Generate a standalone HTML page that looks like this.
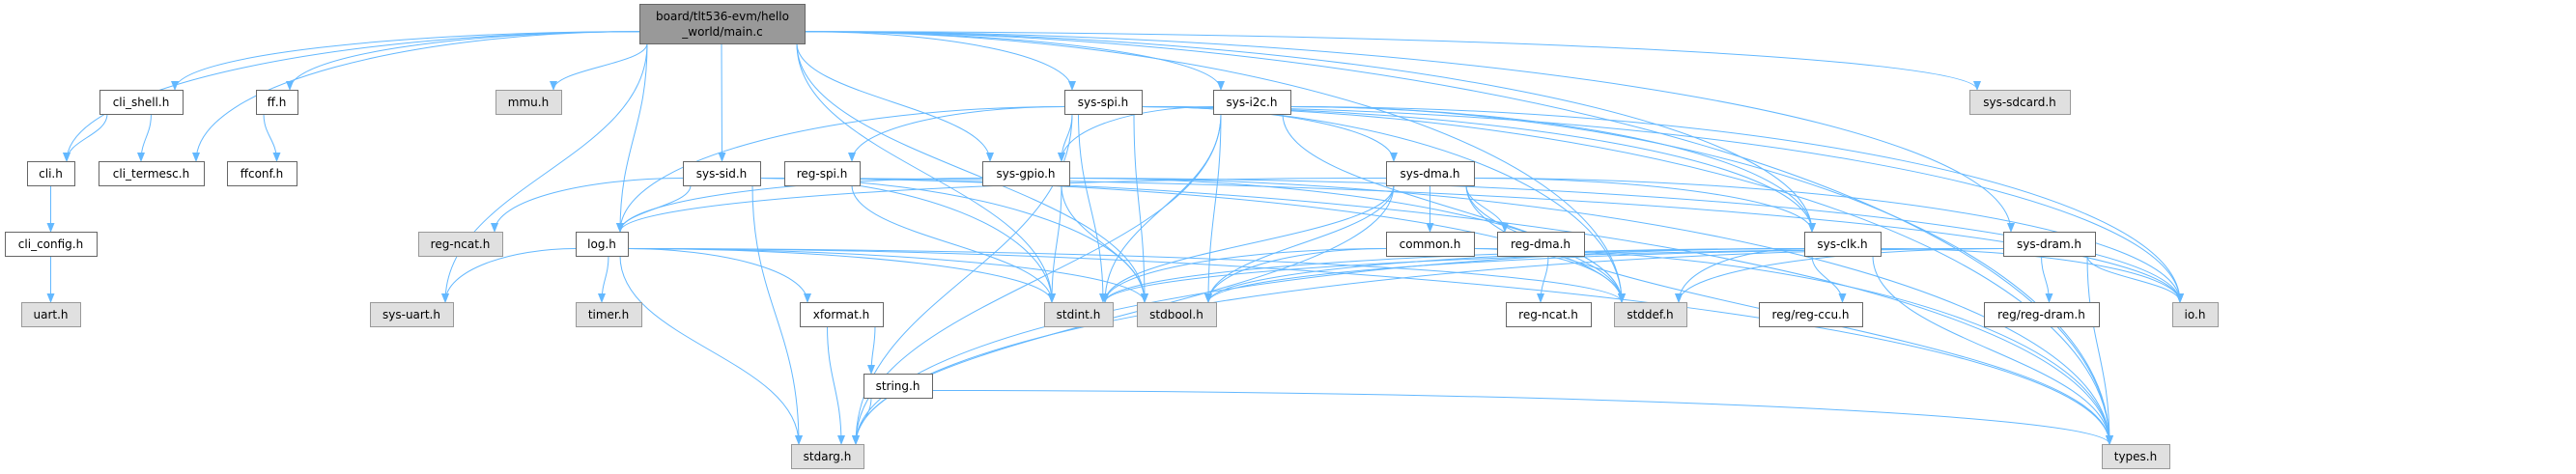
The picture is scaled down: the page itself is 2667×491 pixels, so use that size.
<!DOCTYPE html>
<html><head><meta charset="utf-8">
<style>
html,body{margin:0;padding:0;background:#fff;}
svg{display:block;}
text{font-family:"DejaVu Sans","Liberation Sans",sans-serif;font-size:12px;fill:#000;}
</style></head>
<body>
<svg id="g" width="2667" height="491" viewBox="0 0 2667 491" xmlns="http://www.w3.org/2000/svg">
<defs>
<marker id="ah" markerWidth="10" markerHeight="10" refX="9" refY="5" orient="auto" markerUnits="userSpaceOnUse">
<path d="M0,1 L10,5 L0,9 z" fill="#63b8ff"/>
</marker>
</defs>
<g id="edges" fill="none" stroke="#63b8ff" stroke-width="1"></g>
<g id="nodes" stroke="#666" stroke-width="1">
<rect x="662.5" y="4.5" width="171" height="41" fill="#999999"/>
<text x="748" y="21" text-anchor="middle" stroke="none">board/tlt536-evm/hello</text>
<text x="748" y="37" text-anchor="middle" stroke="none">_world/main.c</text>
</g>
</svg>
<script>
var N={
cli_shell:[103,93,189,118,'cli_shell.h',0],
ff:[265,93,308,118,'ff.h',0],
mmu:[513,93,581,118,'mmu.h',1],
spi:[1102,93,1182,118,'sys-spi.h',0],
i2c:[1256,93,1336,118,'sys-i2c.h',0],
sdcard:[2039,93,2143,118,'sys-sdcard.h',1],
cli:[28,167,77,192,'cli.h',0],
termesc:[102,167,211,192,'cli_termesc.h',0],
ffconf:[235,167,307,192,'ffconf.h',0],
sid:[707,167,787,192,'sys-sid.h',0],
regspi:[812,167,890,192,'reg-spi.h',0],
gpio:[1017,167,1107,192,'sys-gpio.h',0],
dma:[1435,167,1526,192,'sys-dma.h',0],
cliconf:[5,240,100,265,'cli_config.h',0],
ncat1:[433,240,520,265,'reg-ncat.h',1],
log:[596,240,650,265,'log.h',0],
common:[1435,240,1526,265,'common.h',0],
regdma:[1550,240,1640,265,'reg-dma.h',0],
clk:[1868,240,1947,265,'sys-clk.h',0],
dram:[2074,240,2169,265,'sys-dram.h',0],
uart:[22,313,83,338,'uart.h',1],
sysuart:[383,313,469,338,'sys-uart.h',1],
timer:[596,313,664,338,'timer.h',1],
xformat:[828,313,914,338,'xformat.h',0],
stdint:[1081,313,1152,338,'stdint.h',1],
stdbool:[1177,313,1259,338,'stdbool.h',1],
ncat2:[1559,313,1647,338,'reg-ncat.h',0],
stddef:[1671,313,1746,338,'stddef.h',1],
ccu:[1821,313,1928,338,'reg/reg-ccu.h',0],
regdram:[2054,313,2173,338,'reg/reg-dram.h',0],
io:[2249,313,2296,338,'io.h',1],
string:[894,387,965,412,'string.h',0],
stdarg:[819,460,894,485,'stdarg.h',1],
types:[2176,460,2246,485,'types.h',1],
main:[662,4,833,45,'',0]
};
var E=[
['main','cli_shell'],['main','cli'],['main','termesc'],['main','ff'],['main','mmu'],['main','sid'],['main','log'],['main','sysuart'],['main','stdint'],['main','stdbool'],['main','gpio'],['main','spi'],['main','i2c'],['main','dram'],['main','sdcard'],['main','stddef'],['main','types'],['main','clk'],
['cli_shell','cli'],['cli_shell','termesc'],['cli','cliconf'],['cliconf','uart'],['ff','ffconf'],
['sid','ncat1'],['sid','log'],['sid','stdarg'],['sid','stdint'],['sid','stdbool'],['sid','stddef'],['sid','io'],['sid','types'],
['log','sysuart'],['log','timer'],['log','xformat'],['log','stdint'],['log','stdbool'],['log','stddef'],['log','types'],['log','stdarg'],
['xformat','stdarg'],['xformat','string'],['string','stdarg'],['string','types'],
['spi','regspi'],['spi','log'],['spi','gpio'],['spi','dma'],['spi','stdint'],['spi','stdbool'],['spi','stddef'],['spi','stdarg'],['spi','clk'],['spi','io'],['spi','types'],
['i2c','gpio'],['i2c','clk'],['i2c','stdint'],['i2c','stdbool'],['i2c','stdarg'],['i2c','stddef'],['i2c','io'],['i2c','types'],
['regspi','stdint'],
['gpio','log'],['gpio','stdint'],['gpio','stdbool'],['gpio','stddef'],['gpio','io'],['gpio','types'],
['dma','common'],['dma','regdma'],['dma','log'],['dma','stdint'],['dma','stdbool'],['dma','stddef'],['dma','stdarg'],['dma','clk'],['dma','io'],['dma','types'],
['common','stdint'],['common','stdbool'],['common','stddef'],['common','types'],
['regdma','ncat2'],
['clk','ccu'],['clk','stdint'],['clk','stdbool'],['clk','stddef'],['clk','io'],['clk','types'],['clk','stdarg'],
['dram','regdram'],['dram','io'],['dram','types'],['dram','stdint'],['dram','stdbool'],['dram','stddef'],['dram','stdarg']
];
var NS='http://www.w3.org/2000/svg';
var eg=document.getElementById('edges');
function cl(v,a,b){return Math.max(a,Math.min(b,v));}
E.forEach(function(e){
 var s=N[e[0]],t=N[e[1]];
 var tcx=(t[0]+t[2])/2,scx=(s[0]+s[2])/2;
 var sx=cl(tcx,s[0]+8,s[2]-8),sy=s[3];
 var tx=cl(scx,t[0]+8,t[2]-8),ty=t[1];
 var dy=ty-sy;
 var d;
 if(Math.abs(tx-sx)>dy*2.5){
   // long horizontal: leave from side
   sx = tcx>scx? s[2]: s[0]; sy=(s[1]+s[3])/2+ (s[3]-s[1])*0.2;
   dy=ty-sy;
   d='M'+sx+','+sy+' C'+(sx+(tx-sx)*0.5)+','+sy+' '+tx+','+(ty-dy*0.6)+' '+tx+','+ty;
 } else {
   d='M'+sx+','+sy+' C'+sx+','+(sy+dy*0.45)+' '+tx+','+(ty-dy*0.45)+' '+tx+','+ty;
 }
 var p=document.createElementNS(NS,'path');
 p.setAttribute('d',d);p.setAttribute('marker-end','url(#ah)');
 eg.appendChild(p);
});
var ng=document.getElementById('nodes');
for(var k in N){ if(k==='main')continue; var n=N[k];
 var r=document.createElementNS(NS,'rect');
 r.setAttribute('x',n[0]+0.5);r.setAttribute('y',n[1]+0.5);
 r.setAttribute('width',n[2]-n[0]);r.setAttribute('height',n[3]-n[1]);
 r.setAttribute('fill',n[5]?'#e0e0e0':'#ffffff');
 r.setAttribute('stroke',n[5]?'#999':'#666');
 ng.appendChild(r);
 var t=document.createElementNS(NS,'text');
 t.setAttribute('x',(n[0]+n[2])/2);t.setAttribute('y',n[1]+17);
 t.setAttribute('text-anchor','middle');t.setAttribute('stroke','none');
 t.textContent=n[4];ng.appendChild(t);
}
</script>
</body></html>
